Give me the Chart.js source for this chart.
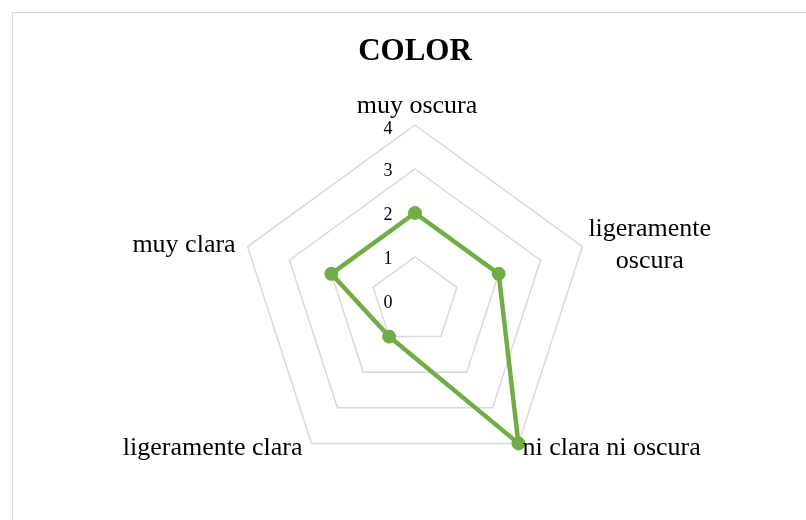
<!DOCTYPE html>
<html>
<head>
<meta charset="utf-8">
<script src="https://cdn.jsdelivr.net/npm/chart.js@4"></script>
<style>
    html, body { margin: 0; padding: 0; background: #fff; overflow: hidden; }
    #wrap { position: relative; width: 806px; height: 520px; }
    #frame { position: absolute; left: 12px; top: 12px; width: 900px; height: 700px; border: 1px solid #d9d9d9; box-sizing: border-box; }
    #colorChart { position: absolute; left: 0; top: 0; }
</style>
</head>
<body>
<div id="wrap">
    <div id="frame"></div>
    <canvas id="colorChart" width="806" height="520"></canvas>
</div>
<script>
// Radar chart data
const categories = ['muy oscura', ['ligeramente', 'oscura'], 'ni clara ni oscura', 'ligeramente clara', 'muy clara'];
const colorValues = [2, 2, 4, 1, 2];
const tickValues = [0, 1, 2, 3, 4];

const serif = '"Liberation Serif", "Times New Roman", serif';

// draws the category names and the tick numbers next to the scale
const labelPlugin = {
    id: 'labelPlugin',
    afterDraw(chart) {
        const s = chart.scales.r;
        const ctx = chart.ctx;
        ctx.save();
        ctx.fillStyle = '#000';

        // tick numbers, left of the vertical axis
        ctx.font = '18px ' + serif;
        ctx.textAlign = 'center';
        ctx.textBaseline = 'middle';
        tickValues.forEach(v => {
            const p = s.getPointPositionForValue(0, v);
            ctx.fillText(String(v), p.x - 27, p.y + 2 + (v === 4 ? 2 : 0));
        });

        // category names
        ctx.font = '26px ' + serif;
        ctx.textBaseline = 'alphabetic';
        const lineH = 32;
        categories.forEach((cat, i) => {
            const lines = Array.isArray(cat) ? cat : [cat];
            const p = s.getPointPosition(i, s.drawingArea);
            const dx = p.x - s.xCenter, dy = p.y - s.yCenter;
            const w = Math.max(...lines.map(l => ctx.measureText(l).width));
            let cx, firstBase;
            if (Math.abs(dx) < 5) {            // top
                cx = p.x + 2;
                firstBase = p.y - 12 - (lines.length - 1) * lineH;
            } else if (dy > 0) {               // bottom corners
                cx = dx > 0 ? p.x + 4 + w / 2 : p.x - 9 - w / 2;
                firstBase = p.y + 12;
            } else {                           // side corners
                cx = dx > 0 ? p.x + 6 + w / 2 : p.x - 12 - w / 2;
                firstBase = p.y + 5 - (lines.length - 1) * lineH / 2;
            }
            ctx.textAlign = 'center';
            lines.forEach((l, k) => ctx.fillText(l, cx, firstBase + k * lineH));
        });
        ctx.restore();
    }
};

new Chart(document.getElementById('colorChart'), {
    type: 'radar',
    data: {
        labels: categories,
        datasets: [{
            label: 'COLOR',
            data: colorValues,
            borderColor: '#70ad47',
            backgroundColor: '#70ad47',
            borderWidth: 4.5,
            borderJoinStyle: 'round',
            fill: false,
            pointRadius: 6.5,
            pointBorderWidth: 1,
            pointBackgroundColor: '#70ad47',
            pointBorderColor: '#70ad47'
        }]
    },
    options: {
        responsive: false,
        devicePixelRatio: 1,
        animation: false,
        events: [],
        layout: { padding: { left: 239, right: 215, top: 0, bottom: 43 } },
        plugins: {
            legend: { display: false },
            tooltip: { enabled: false },
            title: {
                display: true,
                text: 'COLOR',
                color: '#000',
                font: { family: serif, size: 31, weight: 'bold' },
                padding: { top: 33, bottom: 54.8 }
            }
        },
        scales: {
            r: {
                min: 0,
                max: 4,
                ticks: { stepSize: 1, display: false },
                grid: { color: '#d9d9d9', lineWidth: 1.5 },
                angleLines: { display: false },
                pointLabels: { display: false }
            }
        }
    },
    plugins: [labelPlugin]
});
</script>
</body>
</html>
